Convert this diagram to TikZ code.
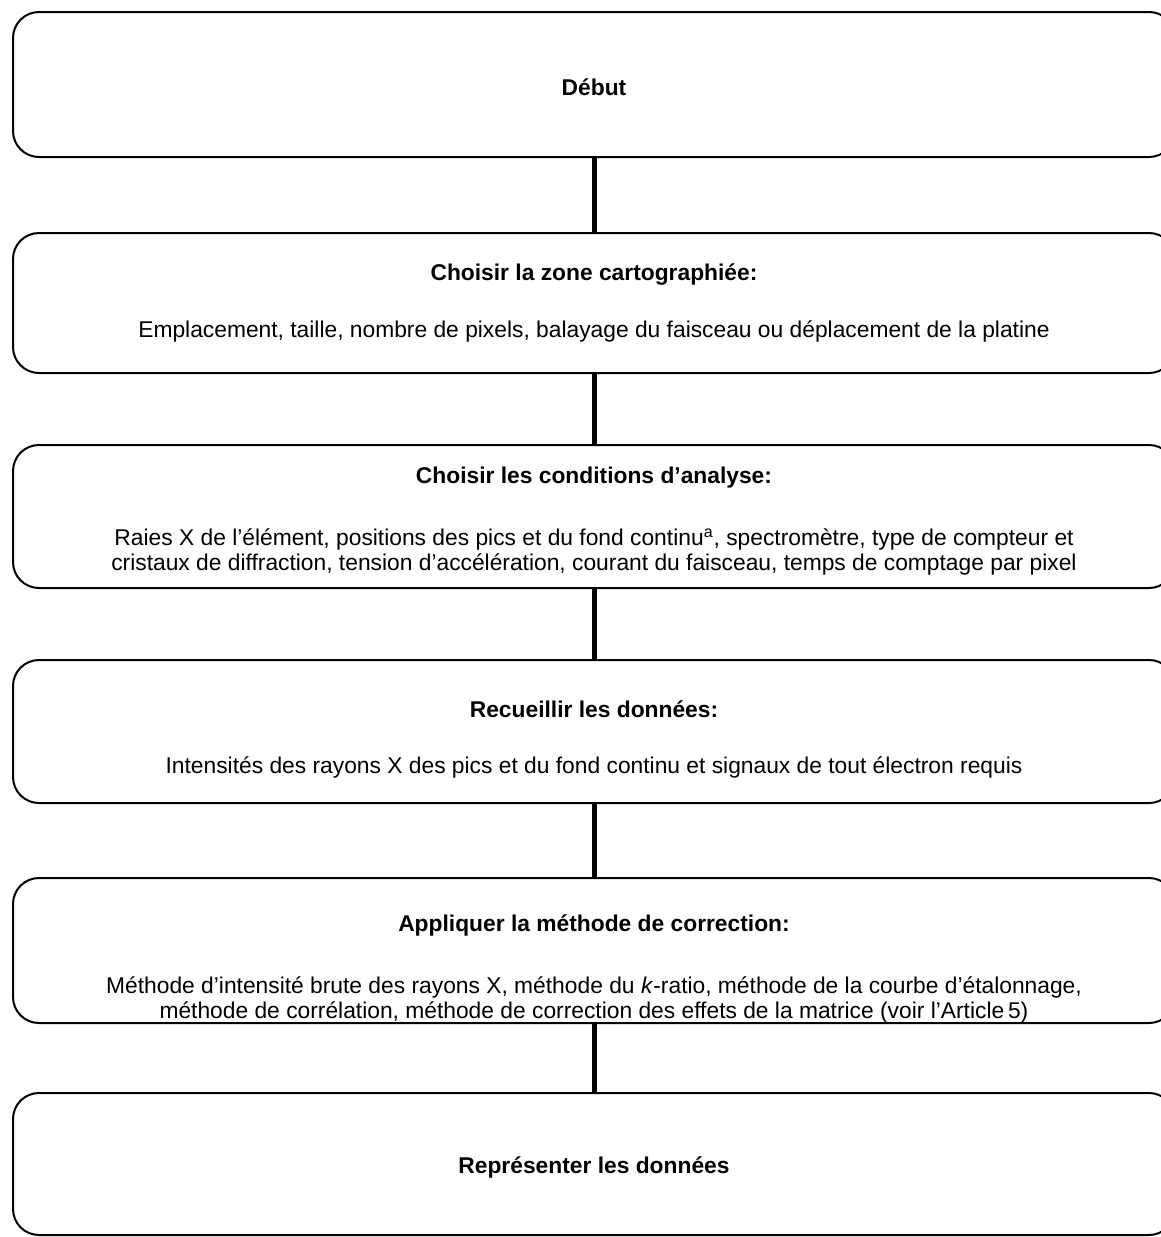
\documentclass[tikz,border=0pt]{standalone}
\usepackage{fontspec}
\setmainfont{Liberation Sans}
\begin{document}
\begin{tikzpicture}[x=0.5pt,y=-0.5pt,
  box/.style={draw, line width=1pt, rounded corners=13pt, minimum width=581pt, inner sep=0pt},
  head/.style={font=\fontsize{11.4}{12.5}\selectfont\bfseries, inner sep=0pt},
  body/.style={font=\fontsize{11.4}{12.5}\selectfont, align=center, inner sep=0pt},
  conn/.style={line width=2.5pt}]
\useasboundingbox (0,0) rectangle (1161,1237);
\clip (0,0) rectangle (1161,1237);
\node[box, minimum height=72.5pt] (b1) at (594,84.5) {};
\node[box, minimum height=70pt] (b2) at (594,303) {};
\node[box, minimum height=71.5pt] (b3) at (594,516.5) {};
\node[box, minimum height=71.5pt] (b4) at (594,731.5) {};
\node[box, minimum height=72.5pt] (b5) at (594,950.5) {};
\node[box, minimum height=71pt] (b6) at (594,1164) {};
\node[head] (t1) at (594,87) {Début};
\node[head] (t2) at (594,275) {Choisir la zone cartographiée:};
\node[body] (d2) at (594,331) {Emplacement, taille, nombre de pixels, balayage du faisceau ou déplacement de la platine};
\node[head] (t3) at (594,478) {Choisir les conditions d’analyse:};
\node[body] (d3) at (594,552) {Raies X de l’élément, positions des pics et du fond continu\textsuperscript{a}, spectromètre, type de compteur et\\cristaux de diffraction, tension d’accélération, courant du faisceau, temps de comptage par pixel};
\node[head] (t4) at (594,709) {Recueillir les données:};
\node[body] (d4) at (594,767) {Intensités des rayons X des pics et du fond continu et signaux de tout électron requis};
\node[head] (t5) at (594,925) {Appliquer la méthode de correction:};
\node[body] (d5) at (594,1000) {Méthode d’intensité brute des rayons X, méthode du \textit{k}-ratio, méthode de la courbe d'étalonnage,\\méthode de corrélation, méthode de correction des effets de la matrice (voir l’Article\,5)};
\node[head] (t6) at (594,1167) {Représenter les données};
\draw[conn] (b1.south) -- (b2.north);
\draw[conn] (b2.south) -- (b3.north);
\draw[conn] (b3.south) -- (b4.north);
\draw[conn] (b4.south) -- (b5.north);
\draw[conn] (b5.south) -- (b6.north);
\end{tikzpicture}
\end{document}
